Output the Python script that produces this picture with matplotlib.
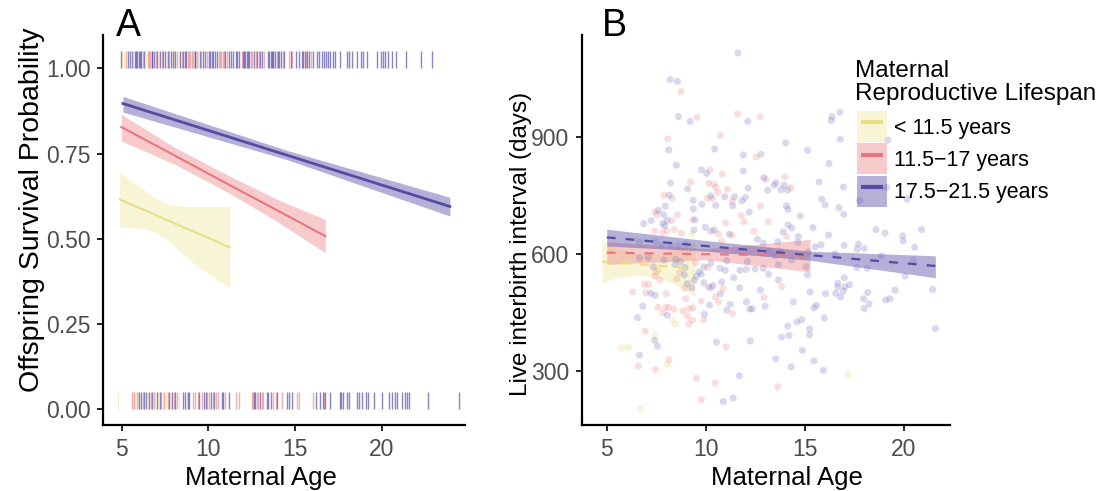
import numpy as np
import matplotlib
matplotlib.use("Agg")
import matplotlib.pyplot as plt
from matplotlib.patches import Patch
from matplotlib.lines import Line2D

plt.rcParams['font.family'] = ['Liberation Sans', 'DejaVu Sans']

groups = ['< 11.5 years', '11.5\u221217 years', '17.5\u221221.5 years']
line_cols = ['#E9DE87', '#E8767E', '#564DA3']
band_cols = ['#F1E9A5', '#EE8C8C', '#5A50A8']
pt_cols = ['#E5D870', '#F08A8A', '#7C73C0']

# ---- panel A: predicted survival (x, fit, low, high) ----
a_yel_x = [4.88, 5.5, 6.2, 7.0, 7.8, 8.6, 9.4, 10.3, 11.23]
a_yel_fit = [0.616, 0.602, 0.587, 0.569, 0.551, 0.533, 0.516, 0.496, 0.475]
a_yel_lo = [0.534, 0.533, 0.530, 0.518, 0.492, 0.452, 0.419, 0.388, 0.356]
a_yel_hi = [0.696, 0.672, 0.646, 0.618, 0.600, 0.595, 0.595, 0.595, 0.595]

a_red_x = [4.98, 8.0, 11.0, 14.0, 16.75]
a_red_fit = [0.828, 0.746, 0.664, 0.583, 0.508]
a_red_lo = [0.787, 0.720, 0.640, 0.550, 0.459]
a_red_hi = [0.865, 0.770, 0.690, 0.615, 0.557]

a_pur_x = [5.07, 14.5, 23.94]
a_pur_fit = [0.897, 0.746, 0.595]
a_pur_lo = [0.872, 0.733, 0.567]
a_pur_hi = [0.918, 0.760, 0.622]

# rug: ages of offspring that survived (top) / died (bottom)
rug1_yel = [5.04, 5.13, 5.67, 6.38, 7.15, 7.59, 8.02, 8.29, 9.42]
rug1_red = [5.23, 6.21, 6.50, 6.57, 6.65, 6.96, 7.33, 7.75, 8.19, 8.46, 8.81, 8.88,
            8.96, 9.04, 9.13, 9.32, 9.59, 9.90, 10.61, 10.67, 10.75, 10.82, 10.90,
            11.07, 11.92, 12.44, 12.54, 12.73, 12.92, 13.19, 13.75, 13.94, 14.29,
            14.65, 14.82, 15.63, 15.92]
rug1_pur = [4.98, 5.38, 5.50, 5.61, 5.75, 5.83, 5.90, 5.98, 6.06, 6.13, 6.31, 6.73,
            6.75, 6.84, 7.06, 7.23, 7.40, 7.52, 7.69, 7.82, 7.94, 8.09, 8.36, 8.54,
            8.63, 8.71, 9.21, 9.25, 9.52, 9.71, 9.81, 10.02, 10.11, 10.19, 10.29,
            10.38, 10.48, 10.98, 11.21, 11.31, 11.40, 11.59, 11.67, 11.79, 11.98,
            12.06, 12.13, 12.21, 12.29, 12.32, 12.63, 12.82, 13.00, 13.09, 13.42,
            13.52, 13.59, 13.65, 13.71, 13.84, 14.02, 14.09, 14.19, 14.38, 14.77,
            15.06, 15.25, 15.40, 15.48, 15.56, 15.71, 15.81, 16.06, 16.25, 16.40,
            16.58, 16.67, 16.79, 16.90, 17.02, 17.17, 17.30, 17.59, 17.98, 18.09,
            18.27, 18.59, 18.82, 18.94, 19.13, 19.75, 19.94, 20.06, 20.17, 20.36,
            20.61, 20.82, 21.38, 22.27, 22.92]
rug0_yel = [4.81, 5.63, 5.79, 5.92, 6.50, 6.94, 7.11, 7.36, 7.56, 7.83, 8.29, 8.75]
rug0_red = [5.57, 5.71, 5.86, 6.21, 6.69, 6.84, 7.27, 7.46, 7.65, 8.02, 8.17, 9.13,
            9.23, 9.38, 9.61, 9.94, 10.06, 10.25, 10.44, 10.58, 10.96, 11.59, 11.75,
            12.50, 12.56, 12.79, 12.88, 13.11, 13.17, 13.75, 13.90, 14.25, 15.13,
            15.25, 16.06, 16.67]
rug0_pur = [6.02, 6.13, 6.31, 6.40, 6.59, 6.77, 7.02, 7.19, 7.75, 7.92, 8.09, 8.52,
            8.63, 8.84, 8.90, 9.48, 9.75, 9.84, 10.15, 10.34, 10.77, 10.84, 11.21,
            12.63, 12.71, 12.98, 13.36, 13.46, 13.59, 13.98, 14.56, 14.63, 14.82,
            16.21, 16.44, 16.59, 16.75, 17.02, 17.59, 17.67, 17.79, 17.98, 18.13,
            18.59, 18.67, 18.84, 19.08, 19.23, 19.56, 20.04, 20.42, 20.58, 20.77,
            20.90, 21.17, 21.34, 21.48, 21.59, 22.69, 24.48]

# ---- panel B: interbirth interval ----
b_yel_x = [4.76, 5.5, 6.7, 7.8, 8.6, 9.46]
b_yel_fit = [581, 578, 574, 570, 567, 562]
b_yel_lo = [527, 540, 546, 536, 518, 493]
b_yel_hi = [637, 616, 602, 604, 616, 630]

b_red_x = [5.0, 10.0, 15.27]
b_red_fit = [604, 600, 597]
b_red_lo = [574, 586, 555]
b_red_hi = [632, 614, 638]

b_pur_x = [5.0, 10.0, 15.2, 21.6]
b_pur_fit = [643, 621, 598, 570]
b_pur_lo = [621, 608, 585, 540]
b_pur_hi = [664, 635, 608, 596]

pts_yel_x = [8.31, 8.47, 7.42, 5.76, 6.09, 8.08, 6.70, 17.2, 7.6, 9.3]
pts_yel_y = [432, 421, 392, 361, 361, 318, 205, 292, 560, 650]

pts_red_x = [8.74, 9.56, 11.6, 12.76, 8.08, 10.74, 12.54, 10.22, 10.84, 13.05, 9.23,
             10.15, 10.42, 10.5, 11.11, 10.61, 7.89, 8.31, 10.08, 10.35, 11.35, 12.76,
             7.44, 7.54, 8.57, 11.8, 8.28, 9.33, 11.01, 11.93, 13.16, 14.0, 14.3,
             7.42, 7.83, 8.04, 8.41, 8.77, 10.64, 11.33, 12.42, 10.8, 9.5, 10.1, 7.49,
             7.44, 8.71, 10.27, 10.89, 10.49, 12.95, 8.94, 8.54, 7.68, 6.9, 7.12, 6.31,
             6.97, 8.0, 8.99, 9.77, 10.64, 11.35, 7.59, 7.98, 8.13, 8.4, 8.84, 9.16,
             9.34, 9.08, 7.83, 9.33, 9.13, 9.9, 6.95, 11.03, 8.15, 6.6, 7.46, 9.53,
             10.47, 9.78, 14.09, 13.84, 13.64]
pts_red_y = [1016, 950, 959, 952, 895, 904, 849, 816, 805, 791, 785,
             781, 779, 771, 766, 758, 751, 743, 743, 743, 736, 723,
             708, 701, 701, 699, 686, 688, 680, 683, 683, 798, 770,
             659, 655, 660, 663, 654, 652, 649, 659, 634, 578, 566, 555,
             544, 553, 514, 512, 491, 490, 514, 537, 534, 523, 523, 503,
             502, 499, 486, 480, 478, 448, 464, 464, 464, 459, 455, 461,
             463, 442, 450, 431, 422, 432, 403, 363, 330, 314, 305, 283,
             270, 228, 645, 517, 261]

pts_pur_x = [11.62, 8.20, 8.57, 8.62, 9.21, 12.12, 8.13, 10.45, 11.90, 12.79, 8.52,
             9.78, 10.05, 11.90, 12.93, 8.22, 9.08, 12.15, 13.13, 8.16, 10.25, 10.96,
             11.45, 12.0, 9.37, 11.83, 9.81, 10.5, 11.36, 7.96, 9.37, 7.61, 7.88, 12.2,
             6.87, 7.24, 7.83, 8.06, 7.93, 9.46, 9.97, 10.43,
             16.78, 16.38, 16.34, 16.8, 14.04, 15.15, 19.2, 16.23, 13.55, 13.45, 13.8,
             14.13, 13.96, 15.73, 16.95, 19.13, 15.86, 16.03, 14.08, 14.16, 16.73,
             16.97, 14.78, 17.78, 20.18, 14.16, 14.34, 15.42, 18.6, 20.9, 19.06, 19.95,
             9.41, 10.26, 11.19, 12.61, 12.91, 6.65, 7.47, 7.76, 8.21, 8.61, 9.0, 6.65,
             7.1, 7.89, 8.48, 8.73, 7.35, 8.45, 8.95, 9.91, 10.26, 10.72, 10.99, 11.06,
             11.73, 12.05, 12.5, 12.1, 12.91, 13.18, 9.67, 9.77, 9.53, 9.42, 8.92, 11.42,
             9.9, 10.81, 10.37, 10.15, 11.72, 12.76, 9.29, 9.07, 7.22, 7.44, 10.74,
             10.19, 11.23, 11.06, 12.06, 12.22, 12.35, 13.0, 6.82, 8.06, 6.55, 9.93,
             7.42, 7.56, 10.54, 12.25, 6.65, 11.7, 10.89, 11.38,
             13.92, 14.68, 16.2, 19.98, 13.64, 14.65, 15.83, 15.53, 16.99, 17.71, 17.65,
             18.01, 20.56, 13.16, 13.5, 13.76, 15.18, 16.53, 18.86, 20.49, 14.34, 13.67,
             15.07, 17.63, 18.16, 15.14, 20.07, 13.67, 17.0, 16.67, 16.67, 17.03, 17.27,
             16.95, 16.57, 16.82, 16.06, 15.27, 18.18, 17.98, 18.25, 18.0, 19.56, 19.31,
             19.09, 21.46, 21.6, 14.42, 15.6, 15.47, 15.99, 14.85, 14.6, 14.14, 15.25,
             15.25, 14.21, 13.84, 14.88, 13.54, 15.47, 14.31, 15.94]
pts_pur_y = [1115, 1047, 1042, 952, 940, 940, 867, 869, 854, 856, 828,
             816, 807, 813, 796, 782, 767, 769, 764, 751, 749, 747,
             747, 745, 738, 736, 728, 725, 724, 723, 716, 712, 701, 708,
             678, 686, 679, 687, 673, 688, 669, 662,
             963, 952, 942, 894, 885, 866, 892, 832, 783, 777, 765,
             764, 777, 785, 772, 771, 741, 726, 724, 715, 719,
             702, 698, 737, 741, 675, 667, 668, 663, 663, 654, 647,
             662, 659, 651, 638, 628, 632, 632, 623, 623, 621, 626, 590,
             591, 585, 587, 581, 568, 574, 566, 568, 577, 564, 559, 583,
             559, 561, 562, 581, 564, 549, 555, 549, 544, 533, 547, 540,
             527, 529, 520, 516, 514, 508, 514, 525, 500, 495, 499,
             470, 472, 457, 478, 460, 460, 467, 467, 444, 438, 447,
             380, 365, 375, 378, 342, 289, 223, 232,
             657, 645, 649, 634, 632, 630, 624, 619, 623, 626, 613,
             615, 618, 608, 596, 608, 606, 601, 596, 585, 585, 573,
             568, 566, 564, 547, 544, 534, 540, 526, 516, 517, 522,
             506, 500, 491, 499, 503, 502, 486, 473, 461, 508, 486,
             483, 510, 410, 478, 469, 463, 437, 432, 427, 416, 409,
             394, 392, 388, 354, 332, 327, 312, 303]

W, H = 1101, 491
fig = plt.figure(figsize=(W / 100, H / 100), dpi=100)
axA = fig.add_axes([103 / W, 1 - 425 / H, 362 / W, 390 / H])
axB = fig.add_axes([582 / W, 1 - 425 / H, 368 / W, 390 / H])

tick_col = '#4D4D4D'


def style(ax):
    for s in ['top', 'right']:
        ax.spines[s].set_visible(False)
    for s in ['left', 'bottom']:
        ax.spines[s].set_linewidth(1.6)
    ax.tick_params(direction='out', length=4, width=1.2, labelsize=16.5,
                   labelcolor=tick_col, pad=5)


# panel A
bandsA = [(a_yel_x, a_yel_fit, a_yel_lo, a_yel_hi),
          (a_red_x, a_red_fit, a_red_lo, a_red_hi),
          (a_pur_x, a_pur_fit, a_pur_lo, a_pur_hi)]
for i, (x, f, lo, hi) in enumerate(bandsA):
    axA.fill_between(x, lo, hi, color=band_cols[i], alpha=0.45, lw=0)
    axA.plot(x, f, color=line_cols[i], lw=2.0 if i == 2 else 1.5)

rugs = [(rug1_yel, rug0_yel), (rug1_red, rug0_red), (rug1_pur, rug0_pur)]
for i, (r1, r0) in enumerate(rugs):
    axA.vlines(r1, 1.0, 1.05, color=band_cols[i], alpha=0.7, lw=1.0)
    axA.vlines(r0, 0.0, 0.05, color=band_cols[i], alpha=0.7, lw=1.0)

axA.set_xlim(3.92, 24.81)
axA.set_ylim(-0.046, 1.098)
axA.set_xticks([5, 10, 15, 20])
axA.set_yticks([0, 0.25, 0.5, 0.75, 1.0])
axA.set_yticklabels(['0.00', '0.25', '0.50', '0.75', '1.00'])
axA.set_xlabel('Maternal Age', fontsize=18.5)
axA.set_ylabel('Offspring Survival Probability', fontsize=20.5)
style(axA)

# panel B
pts = [(pts_yel_x, pts_yel_y), (pts_red_x, pts_red_y), (pts_pur_x, pts_pur_y)]
bandsB = [(b_yel_x, b_yel_fit, b_yel_lo, b_yel_hi),
          (b_red_x, b_red_fit, b_red_lo, b_red_hi),
          (b_pur_x, b_pur_fit, b_pur_lo, b_pur_hi)]
for i, (x, f, lo, hi) in enumerate(bandsB):
    axB.fill_between(x, lo, hi, color=band_cols[i], alpha=0.45, lw=0)
for i, (px, py) in enumerate(pts):
    axB.scatter(px, py, s=26, color=pt_cols[i], alpha=0.28, edgecolors='none')
for i, (x, f, lo, hi) in enumerate(bandsB):
    axB.plot(x, f, color=line_cols[i], lw=1.6, linestyle=(0, (4, 4.5)))

axB.set_xlim(3.75, 22.34)
axB.set_ylim(163, 1161)
axB.set_xticks([5, 10, 15, 20])
axB.set_yticks([300, 600, 900])
axB.set_xlabel('Maternal Age', fontsize=18.5)
axB.set_ylabel('Live interbirth interval (days)', fontsize=17.5)
style(axB)

# label positions (pixel -> axes coords)
axA.xaxis.set_label_coords((261 - 103) / 362, -(485 - 425) / 390)
axA.xaxis.label.set_va('baseline')
axB.xaxis.set_label_coords((787 - 582) / 368, -(485 - 425) / 390)
axB.xaxis.label.set_va('baseline')
axA.yaxis.set_label_coords(-(103 - 45) / 362, (425 - 210) / 390)
axB.yaxis.set_label_coords(-(582 - 532) / 368, (425 - 244) / 390)

fig.text(116 / W, 1 - 36 / H, 'A', fontsize=27, va='baseline')
fig.text(602 / W, 1 - 36 / H, 'B', fontsize=27, va='baseline')

# legend
fig.text(855 / W, 1 - 60 / H, 'Maternal\nReproductive Lifespan', fontsize=17.5,
         va='top', ha='left', linespacing=1.05)
handles = []
for i in range(3):
    handles.append((Patch(facecolor=band_cols[i], alpha=0.45, lw=0),
                    Line2D([], [], linestyle='none', marker='_', markersize=16,
                           markeredgewidth=3, color=line_cols[i])))
leg = fig.legend(handles, groups, loc='upper left',
                 bbox_to_anchor=(842 / W, 1 - 96 / H),
                 frameon=False, fontsize=15.5,
                 handlelength=1.4, handleheight=1.85, labelspacing=0.05,
                 handletextpad=0.3, borderpad=0.2, alignment='left')

fig.savefig('out.png', dpi=100)
